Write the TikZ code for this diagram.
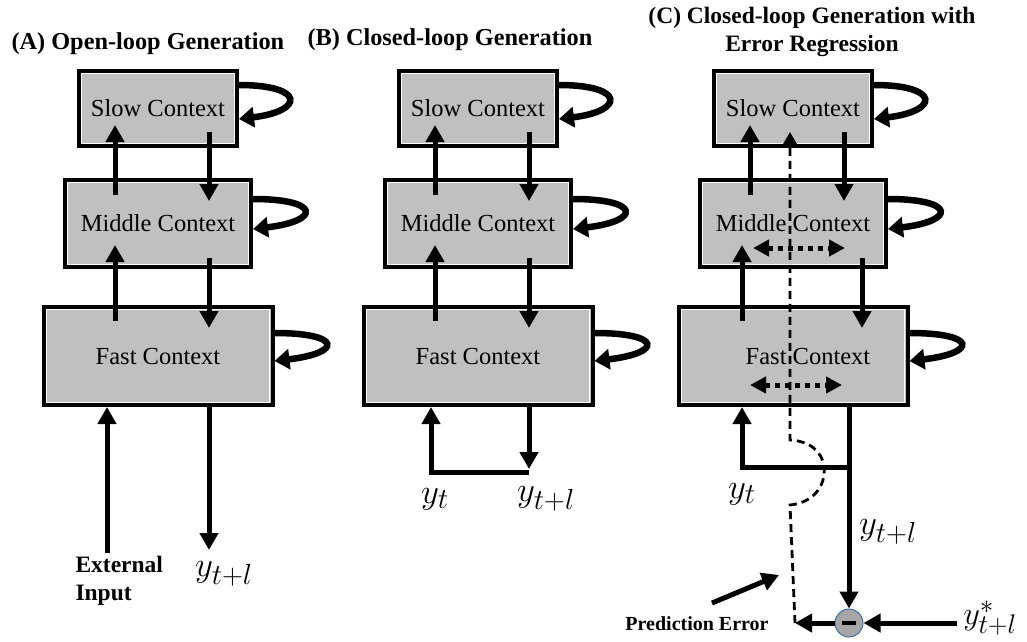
\documentclass[tikz,border=0pt]{standalone}
\usepackage{fontspec}
\usepackage{graphicx}
\setmainfont{Liberation Serif}
\usetikzlibrary{arrows.meta,calc}
\definecolor{boxgray}{RGB}{192,192,192}
\definecolor{dotgray}{RGB}{166,166,166}
\definecolor{rimblue}{RGB}{65,113,156}

\newcommand\bigvar[2][1.4]{\scalebox{#1}{$#2$}}

\tikzset{
  ctx/.style={draw, line width=4pt, fill=boxgray, inner sep=0pt,
    font=\fontsize{24.5}{28}\selectfont,
    path picture={\draw[white, line width=1pt]
      ([shift={(2.8pt,-2.8pt)}]path picture bounding box.north west) rectangle
      ([shift={(-2.8pt,2.8pt)}]path picture bounding box.south east);}},
  arr/.style={line width=5pt, -{Triangle[length=17pt,width=18pt]}},
  loopar/.style={line width=6.5pt, -{Triangle[length=15pt,width=20pt]}},
  dotarr/.style={line width=5pt, dash pattern=on 5pt off 5pt,
    {Triangle[length=16pt,width=16pt]}-{Triangle[length=16pt,width=16pt]}},
  errpath/.style={line width=2.8pt, dash pattern=on 8pt off 5pt,
    -{Triangle[length=12pt,width=13pt]}},
  ttl/.style={font=\fontsize{24.3}{28}\selectfont\bfseries},
  lbl/.style={font=\fontsize{23.5}{28}\selectfont\bfseries, align=left},
  var/.style={font=\fontsize{24.88}{26}\selectfont, inner sep=0pt},
  subtract/.style={circle, fill=dotgray, draw=rimblue, line width=1pt,
    minimum size=28pt, inner sep=0pt,
    path picture={\draw[black, line width=3.5pt]
      ([xshift=-7pt]path picture bounding box.center) --
      ([xshift=7pt]path picture bounding box.center);}},
}

% #1 name prefix, #2 centre x, #3 indent of the fast label,
% #4/#5 x offsets of the middle-fast up and down arrows
\newcommand\ctxstack[5]{%
  \node[ctx, minimum width=158pt, minimum height=75pt] (#1S) at (#2,108.5) {Slow Context};
  \node[ctx, minimum width=186pt, minimum height=87pt] (#1M) at (#2,223.5) {Middle Context};
  \node[ctx, minimum width=229pt, minimum height=98pt] (#1F) at (#2,356) {\hspace*{#3}Fast Context};
  % recurrent self connections
  \draw[loopar] ([yshift=-16pt]#1S.north east) .. controls +(66,0) and +(66,-8) .. ([yshift=-50pt]#1S.north east);
  \draw[loopar] ([yshift=-21pt]#1M.north east) .. controls +(68,0) and +(68,-8) .. ([yshift=-51pt]#1M.north east);
  \draw[loopar] ([yshift=-28pt]#1F.north east) .. controls +(68,0) and +(68,-8) .. ([yshift=-56pt]#1F.north east);
  % slow <-> middle
  \draw[arr] ([xshift=-43pt,yshift=-17pt]#1M.north) -- ([xshift=-43pt,yshift=23pt]#1S.south);
  \draw[arr] ([xshift=51pt,yshift=16pt]#1S.south) -- ([xshift=51pt,yshift=-23pt]#1M.north);
  % middle <-> fast
  \draw[arr] ([xshift=#4,yshift=-16pt]#1F.north) -- ([xshift=#4,yshift=24pt]#1M.south);
  \draw[arr] ([xshift=#5,yshift=11pt]#1M.south) -- ([xshift=#5,yshift=-23pt]#1F.north);
}

\begin{document}
\begin{tikzpicture}[x=1pt, y=-1pt]
\useasboundingbox (0,0) rectangle (1027,641);

% ---------------- (A) open loop ----------------
\node[ttl, anchor=west] (tA) at (8,44) {(A) Open-loop Generation};
\ctxstack{a}{158}{0pt}{-43pt}{51pt}
\coordinate (ain) at (107,553);
\draw[arr] (ain) -- (ain |- aF.south);
\coordinate (aout) at (209,550);
\draw[arr] (aout |- aF.south) -- (aout);
\node[lbl, anchor=west] (aext) at (72,581) {External\\Input};
\node[var] (ayl) at (224,574) {\bigvar{y_{t+l}}};

% ---------------- (B) closed loop ----------------
\node[ttl, anchor=west] (tB) at (304,40) {(B) Closed-loop Generation};
\ctxstack{b}{478}{0pt}{-43pt}{51pt}
\coordinate (bturn) at (431,472);
\coordinate (bend) at (529,472);
\draw[arr] (bend |- bF.south) -- ([yshift=3pt]bend);
\draw[arr, line join=miter] (bend) -- (bturn) -- (bturn |- bF.south);
\node[var] (byt) at (435,499) {\bigvar{y_t}};
\node[var] (byl) at (546,499) {\bigvar{y_{t+l}}};

% ---------------- (C) closed loop with error regression ----------------
\node[ttl, align=center, font=\fontsize{23.5}{28}\selectfont\bfseries] (tC) at (812,32) {(C) Closed-loop Generation with\\Error Regression};
\ctxstack{c}{793}{30pt}{-51pt}{69pt}

% bidirectional updates inside the context layers
\coordinate (cm1) at (753,248); \coordinate (cm2) at (845,248);
\draw[dotarr] (cm1) -- (cm2);
\coordinate (cf1) at (750,385); \coordinate (cf2) at (842,385);
\draw[dotarr] (cf1) -- (cf2);

% output, feedback and comparison with the target
\coordinate (cturn) at (742,467);
\coordinate (cjoin) at (849,467);
\node[subtract] (minus) at (849,623) {};
\draw[arr] (cjoin |- cF.south) -- (minus.north);
\draw[arr, line join=miter] (cjoin) -- (cturn) -- (cturn |- cF.south);
\coordinate (ystar) at (957,623);
\draw[arr] (ystar) -- (minus.east);
\coordinate (errturn) at (795,623);
\draw[arr] (minus.west) -- (errturn);

% prediction error propagated back to the slow context
\draw[errpath] (errturn) -- (790,505)
  .. controls (812,503) and (826,487) .. (824,467)
  .. controls (822,450) and (808,441) .. (790,440)
  -- ([xshift=-3pt,yshift=16pt]cS.south);

\node[font=\fontsize{20}{22}\selectfont\bfseries] (perr) at (697,624) {Prediction Error};
\coordinate (pe1) at (712,603); \coordinate (pe2) at (779,575);
\draw[arr] (pe1) -- (pe2);

\node[var] (cyt) at (742,494) {\bigvar{y_t}};
\node[var] (cyl) at (888,532) {\bigvar{y_{t+l}}};
\node[var] (cys) at (990,618) {\bigvar[1.3]{y^{*}_{t+l}}};
\end{tikzpicture}
\end{document}
